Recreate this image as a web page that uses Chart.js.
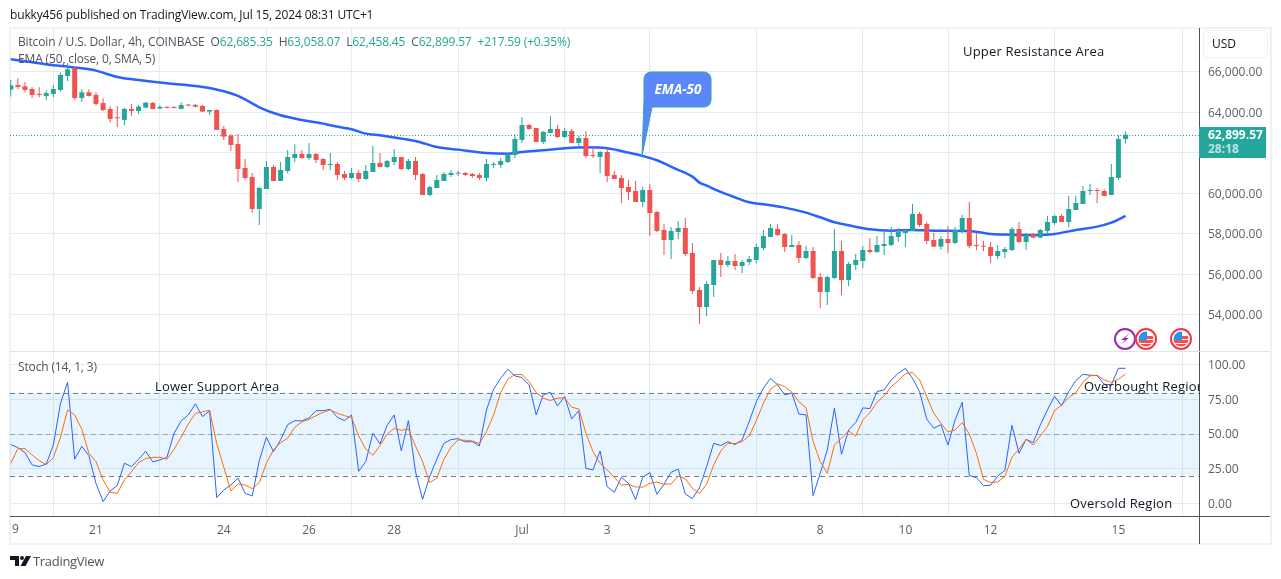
<!DOCTYPE html>
<html>
<head>
<meta charset="utf-8">
<style>
  html, body { margin: 0; padding: 0; background: #fff; }
  body { width: 1281px; height: 579px; position: relative; overflow: hidden; font-family: "Open Sans", sans-serif; }
  canvas { position: absolute; left: 0; top: 0; }
  .txt { position: absolute; white-space: pre; font-size: 12px; line-height: 16px; color: #50535e; letter-spacing: -0.15px; }
  .up { color: #26a69a; }
  #frame { position: absolute; left: 9px; top: 27px; width: 1259px; height: 514px; border: 2px solid #eef1f5; }
</style>
</head>
<body>
<div id="frame"></div>
<canvas id="chart" width="1281" height="579"></canvas>
<div class="txt" style="left:10px;top:7px;color:#131722">bukky456 published on TradingView.com, Jul 15, 2024 08:31 UTC+1</div>
<div class="txt" style="left:18px;top:34px">Bitcoin / U.S. Dollar, 4h, COINBASE  O<span class="up">62,685.35</span>  H<span class="up">63,058.07</span>  L<span class="up">62,458.45</span>  C<span class="up">62,899.57</span>  <span class="up">+217.59 (+0.35%)</span></div>
<div class="txt" style="left:18px;top:51px">EMA (50, close, 0, SMA, 5)</div>
<div class="txt" style="left:18px;top:359px">Stoch (14, 1, 3)</div>
<div class="txt" style="left:33px;top:553px;font-size:13px;letter-spacing:-0.3px">TradingView</div>
<script src="https://cdn.jsdelivr.net/npm/chart.js@4/dist/chart.umd.min.js"></script>
<script>
// 4h candles, Jun 19 00:00 to Jul 15 04:00
const opens = [65128,65359,65293,65161,64914,64815,64914,65112,65804,66184,
  64716,64996,64865,64469,64172,63727,63628,64172,64073,64238,
  64469,64188,64271,64271,64172,64370,64370,64320,64040,64122,
  63183,62853,62441,61253,60808,59225,60214,61303,60610,61105,
  61748,61946,61748,61946,61698,61402,61451,60956,60759,61006,
  60709,61055,61501,61303,61550,61797,61204,61600,60956,59918,
  60264,60610,60907,60973,61006,60956,60907,60759,61402,61402,
  61550,61896,62638,63380,63232,62539,62985,63183,62787,63084,
  62490,62737,61896,61797,62045,60907,60759,60313,60115,59571,
  60165,59077,58186,57691,58087,58285,57048,55218,54377,55465,
  56702,56455,56653,56405,56603,56702,57296,57840,58236,57988,
  57345,57444,56801,57147,55861,55119,55812,57147,55713,56455,
  56653,57197,57098,57395,57444,57840,58038,58137,58978,58483,
  57691,57362,57741,57543,58137,58780,57428,57395,57345,56900,
  57098,57197,58236,57593,57988,57807,58137,58532,58879,58582,
  59176,59472,60115,60165,60115,59918,60759,62685.35];
const highs = [65607,65689,65508,65244,65244,65079,65359,65969,66431,66266,
  65145,65145,64996,64700,64304,64320,64221,64419,64370,64518,
  64518,64353,64304,64304,64518,64419,64419,64370,64122,64139,
  63331,62919,62935,61698,61006,60330,61600,61402,61550,62144,
  62408,62144,62490,61995,61748,61995,61550,61105,61253,61154,
  61402,62342,61995,61649,62193,61797,61698,61797,61006,60363,
  60907,61055,61154,61105,61055,61006,61006,61698,61550,61748,
  61995,62935,63776,63430,63232,63084,63826,63380,63232,63183,
  62836,63084,62292,62094,62193,61105,60907,60660,60610,60313,
  60462,59126,58483,58335,58631,58780,57543,55366,55663,56702,
  57048,56900,56999,56702,56900,57494,58186,58483,58483,58038,
  57939,57642,57395,57345,56059,55911,58236,57642,56603,56999,
  57395,57790,57889,58137,58335,58285,58236,59472,59077,58582,
  58038,57873,58384,58335,58928,59571,58038,57642,57593,57444,
  57345,58335,58582,58038,58038,58236,58879,58928,58978,59868,
  59868,60363,60462,60264,60214,61451,62886,63058.07];
const lows = [64782,65145,64980,64716,64749,64617,64749,65046,65557,64617,
  64518,64782,64337,64073,63496,63282,63380,63826,63925,64205,
  64155,64172,64205,64205,64155,64320,64238,64024,63875,63133,
  62638,62094,60561,60660,59027,58433,60214,60610,60610,60989,
  61550,61698,61649,61501,61154,61154,60660,60660,60709,60561,
  60660,61055,61303,61253,61402,61154,61154,60660,59918,59868,
  60264,60610,60808,60857,60857,60759,60660,60610,61253,61253,
  61501,61748,62490,63133,62539,62441,62985,62737,62737,62490,
  62342,61748,61748,61006,60561,60709,59522,59670,59571,59324,
  57889,58087,56949,56751,57741,56900,55020,53536,53932,54872,
  55861,56356,56207,56059,56455,56554,57197,57840,57889,57098,
  57345,56554,56751,55762,54327,54476,55762,54971,55416,56207,
  56306,56999,57048,56949,57395,57593,57345,58137,58335,57494,
  57362,57213,57048,57494,58038,57296,57197,57147,56554,56751,
  56801,57147,57543,57197,57790,57790,57988,58433,58582,58335,
  59176,59472,59918,59522,59868,59918,60660,62458.45];
const closes = [65343,65260,65112,64865,64865,64963,65161,65854,66134,64716,
  64996,64815,64419,64122,63677,63710,64172,64073,64287,64485,
  64172,64271,64221,64221,64370,64337,64287,64040,64122,63133,
  62803,62391,61204,60759,59225,60264,61303,60610,61154,61797,
  61946,61748,61946,61649,61402,61435,60907,60759,61006,60709,
  61105,61501,61303,61600,61797,61204,61600,60907,59918,60313,
  60660,60956,61006,61006,60907,60857,60759,61451,61435,61600,
  61946,62688,63380,63183,62539,63034,63183,62787,63084,62490,
  62737,61847,61847,62045,60857,60709,60264,60066,59571,60165,
  59027,58137,57691,58137,58285,56999,55168,54377,55515,56702,
  56455,56653,56405,56603,56751,57345,57889,58285,57939,57345,
  57444,56801,57147,55812,55119,55861,57147,55713,56504,56702,
  57197,57098,57444,57494,57889,58087,58186,58978,58433,57642,
  57362,57741,57543,58186,58780,57395,57395,57362,56900,57147,
  57246,58236,57593,57939,57807,58186,58582,58879,58582,59225,
  59522,60115,60165,60115,59868,60808,62688,62899.57];

// EMA 50 at these candles
const emaCandles = [0,3,6,8,10,12,15,18,22,25,28,30,32,34,35,38,41,44,45,48,50,52,55,57,60,63,67,70,72,75,78,81,84,87,89,91,94,95,96,97,98,100,102,104,106,109,112,114,116,118,121,124,127,130,135,138,141,144,147,150,153,155,157];
const emaValues = [66629,66481,66332,66266,66184,66068,65755,65607,65442,65343,65211,65046,64815,64452,64254,63859,63628,63446,63364,63166,62952,62869,62704,62589,62292,62160,61995,61962,62045,62127,62226,62276,62226,62012,61847,61633,61154,61006,60825,60528,60379,60066,59802,59555,59456,59291,59044,58813,58565,58417,58219,58153,58186,58153,58137,57988,57955,57939,57988,58186,58351,58549,58879];

const stochK = [42.4,40.2,36.6,27.7,26.5,28.4,42.1,72.2,87.4,31.8,
  41.2,34.4,14.4,1.2,8.9,12.8,28.9,26.5,31.8,37.6,
  29.9,31.3,33.2,50.6,59.5,63.8,71.8,62.6,66.7,4.1,
  9.6,13.2,18.1,7.2,5.3,30.8,47.7,37.3,45.8,56.8,
  59.7,59.5,61.6,66.9,66.9,67.9,62.1,59.7,63.8,23.1,
  30.1,50.6,42.9,56.1,63.8,37.8,59.7,22.9,2.9,19.3,
  31.8,43.3,46.0,46.7,44.3,44.5,41.4,67.4,82.4,90.3,
  96.8,92.0,90.8,85.5,63.8,78.3,80.2,70.3,77.1,60.9,
  66.9,25.3,24.1,37.8,12.0,7.9,18.8,14.4,2.6,18.8,
  22.2,6.5,13.7,22.4,24.6,6.7,3.4,11.3,26.5,43.3,
  41.7,44.5,42.4,45.8,59.0,73.4,83.1,90.3,85.5,78.3,
  79.7,64.5,63.8,5.5,21.7,38.5,68.6,35.4,53.0,58.3,
  68.9,68.4,80.7,81.9,89.1,93.9,97.5,90.3,80.7,60.9,
  54.2,56.8,42.1,60.2,73.0,20.0,18.5,12.8,13.0,19.7,
  23.6,56.3,36.1,46.2,43.8,56.6,67.4,77.3,70.6,80.7,
  88.6,93.2,92.5,92.2,86.0,85.5,97.5,97.5];
const stochD = [28.9,39.5,39.5,34.9,30.8,27.9,33.0,47.7,67.4,63.8,
  53.5,36.1,30.1,16.9,7.9,7.2,16.9,22.9,29.4,32.3,
  33.2,33.2,31.8,39.0,47.7,57.3,65.0,66.0,67.2,43.3,
  26.0,8.9,14.0,13.2,10.6,14.9,28.9,38.5,43.8,47.0,
  54.9,58.8,60.7,63.3,65.7,67.4,65.0,63.3,61.9,48.6,
  39.0,34.7,41.7,49.8,54.2,52.7,53.7,41.4,30.1,14.9,
  18.1,31.8,40.5,45.8,45.5,45.0,43.1,51.8,63.8,79.9,
  89.6,93.0,93.0,87.9,79.9,75.9,74.2,75.9,76.1,69.4,
  68.1,50.6,37.3,28.9,24.1,18.8,13.0,13.7,11.8,11.6,
  14.4,15.4,13.7,14.0,19.7,17.8,10.8,7.0,13.7,27.7,
  37.8,43.3,43.1,44.5,48.6,59.7,72.2,82.4,86.2,84.3,
  80.2,73.4,68.9,44.5,30.1,21.7,42.1,47.0,52.3,48.6,
  60.2,65.5,73.0,77.5,84.3,88.6,93.7,94.4,89.1,77.1,
  65.0,57.8,51.5,53.0,58.3,50.1,36.1,17.3,14.9,15.4,
  19.3,33.2,39.0,46.2,42.1,48.6,55.4,66.9,71.0,76.3,
  79.9,87.4,92.0,92.5,89.1,87.4,89.6,93.4];

const dayTicks = [0,12,30,42,54,72,84,96,114,126,138,156];
const dayLabels = ['','21','24','26','28','Jul','3','5','8','10','12','15'];
const priceTicks = [54000,56000,58000,60000,62000,64000,66000];
const stochTicks = [0,25,50,75,100];

const UP = '#26a69a', DOWN = '#ef5350', GRID = '#e4ecf3', AXIS = '#50535e', LABEL = '#5d606b';
const FONT = '"Open Sans", sans-serif';

const candleIdx = closes.map((_, i) => i);
const candleCol = closes.map((c, i) => c >= opens[i] ? UP : DOWN);

function flag(ctx, x, y) {
  ctx.save();
  ctx.beginPath(); ctx.arc(x, y, 10, 0, Math.PI * 2);
  ctx.fillStyle = '#fff'; ctx.fill();
  ctx.strokeStyle = '#f23645'; ctx.lineWidth = 2; ctx.stroke();
  ctx.beginPath(); ctx.arc(x, y, 7.5, 0, Math.PI * 2); ctx.clip();
  ctx.fillStyle = '#ef5350';
  ctx.fillRect(x - 8, y + 1, 16, 3);
  ctx.fillRect(x - 8, y + 5, 16, 3);
  ctx.fillRect(x + 1, y - 3, 8, 3);
  ctx.fillStyle = '#2196f3';
  ctx.fillRect(x - 8, y - 8, 9, 9);
  ctx.restore();
}

function bolt(ctx, x, y) {
  ctx.beginPath(); ctx.arc(x, y, 10, 0, Math.PI * 2);
  ctx.fillStyle = '#fff'; ctx.fill();
  ctx.strokeStyle = '#9c27b0'; ctx.lineWidth = 2; ctx.stroke();
  ctx.beginPath();
  ctx.moveTo(x + 5, y - 6); ctx.lineTo(x - 4, y + 1); ctx.lineTo(x, y + 1);
  ctx.lineTo(x - 5, y + 6); ctx.lineTo(x + 4, y - 1); ctx.lineTo(x, y - 1);
  ctx.closePath();
  ctx.fillStyle = '#9c27b0'; ctx.fill();
}

// stochastic band and price line go under the candles
const underlay = {
  id: 'underlay',
  beforeDatasetsDraw(chart) {
    const { ctx, chartArea: a, scales } = chart;
    const s = scales.yStoch, p = scales.yPrice;
    ctx.save();
    ctx.fillStyle = 'rgba(33,150,243,0.1)';
    ctx.fillRect(a.left, s.getPixelForValue(80), a.right - a.left, s.getPixelForValue(20) - s.getPixelForValue(80));
    ctx.lineWidth = 1;
    [[80, '#787b86'], [50, '#a0a3ad'], [20, '#787b86']].forEach(([v, col]) => {
      const y = Math.round(s.getPixelForValue(v)) + 0.5;
      ctx.strokeStyle = col; ctx.setLineDash([5, 4]);
      ctx.beginPath(); ctx.moveTo(a.left, y); ctx.lineTo(a.right, y); ctx.stroke();
    });
    ctx.strokeStyle = '#e0e3eb'; ctx.setLineDash([]);
    const sep = Math.round(p.bottom) + 0.5;
    ctx.beginPath(); ctx.moveTo(a.left, sep); ctx.lineTo(a.right + 71, sep); ctx.stroke();
    const last = Math.round(p.getPixelForValue(closes[closes.length - 1])) + 0.5;
    ctx.strokeStyle = UP; ctx.setLineDash([1, 2]);
    ctx.beginPath(); ctx.moveTo(a.left, last); ctx.lineTo(a.right, last); ctx.stroke();
    ctx.restore();
  }
};

const overlay = {
  id: 'overlay',
  afterDraw(chart) {
    const { ctx, chartArea: a } = chart;
    ctx.save();

    // axis line runs on under the price scale
    ctx.strokeStyle = AXIS; ctx.lineWidth = 1;
    ctx.beginPath(); ctx.moveTo(a.right, a.bottom + 0.5); ctx.lineTo(1270, a.bottom + 0.5); ctx.stroke();
    ctx.beginPath(); ctx.moveTo(a.right + 0.5, a.bottom); ctx.lineTo(a.right + 0.5, 544); ctx.stroke();

    ctx.textBaseline = 'middle'; ctx.textAlign = 'left';
    ctx.fillStyle = LABEL; ctx.font = '12px ' + FONT;
    ctx.fillText('9', 12, 530);

    // notes drawn on the published chart
    ctx.fillStyle = '#131722'; ctx.font = '13px ' + FONT; ctx.letterSpacing = '0.2px';
    ctx.fillText('Upper Resistance Area', 963, 52);
    ctx.fillText('Lower Support Area', 155, 387);
    ctx.fillText('Oversold Region', 1070, 504);
    ctx.save();
    ctx.beginPath(); ctx.rect(a.left, a.top, a.right - a.left, a.bottom - a.top); ctx.clip();
    ctx.fillText('Overbought Region', 1084, 387);
    ctx.restore();
    ctx.letterSpacing = '0px';

    // EMA-50 callout
    ctx.beginPath();
    ctx.moveTo(651, 72); ctx.lineTo(704, 72);
    ctx.arcTo(711, 72, 711, 79, 7); ctx.lineTo(711, 100);
    ctx.arcTo(711, 107, 704, 107, 7); ctx.lineTo(652, 107);
    ctx.lineTo(642, 156); ctx.lineTo(644, 100); ctx.lineTo(644, 79);
    ctx.arcTo(644, 72, 651, 72, 7); ctx.closePath();
    ctx.fillStyle = '#5b87fb'; ctx.fill();
    ctx.strokeStyle = '#2ea3b5'; ctx.lineWidth = 1; ctx.stroke();
    ctx.fillStyle = '#fff'; ctx.font = 'italic bold 13.5px ' + FONT; ctx.textAlign = 'center';
    ctx.fillText('EMA-50', 678, 90);

    // last price tag
    ctx.fillStyle = UP;
    ctx.fillRect(a.right, 127, 67, 31);
    ctx.textAlign = 'left'; ctx.fillStyle = '#fff'; ctx.font = 'bold 12px ' + FONT;
    ctx.fillText('62,899.57', 1208, 136);
    ctx.fillStyle = 'rgba(255,255,255,0.7)';
    ctx.fillText('28:18', 1208, 150);

    // currency button
    ctx.strokeStyle = '#eef0f3'; ctx.lineWidth = 1;
    ctx.beginPath(); ctx.roundRect(1203.5, 30.5, 64, 27, 4); ctx.stroke();
    ctx.fillStyle = '#131722'; ctx.font = '12px ' + FONT;
    ctx.fillText('USD', 1212, 45);

    bolt(ctx, 1125, 339);
    flag(ctx, 1146, 339);
    flag(ctx, 1181, 339);

    // TradingView mark
    ctx.fillStyle = '#131722';
    ctx.beginPath();
    ctx.moveTo(10, 556); ctx.lineTo(19, 556); ctx.lineTo(19, 566); ctx.lineTo(15, 566); ctx.lineTo(15, 560); ctx.lineTo(10, 560);
    ctx.closePath(); ctx.fill();
    ctx.beginPath(); ctx.arc(22, 558, 2, 0, Math.PI * 2); ctx.fill();
    ctx.beginPath();
    ctx.moveTo(26, 556); ctx.lineTo(31, 556); ctx.lineTo(25.5, 566); ctx.lineTo(20.5, 566);
    ctx.closePath(); ctx.fill();
    ctx.restore();
  }
};

new Chart(document.getElementById('chart'), {
  type: 'bar',
  data: {
    datasets: [
      { type: 'bar', label: 'Body', yAxisID: 'yPrice', order: 0, grouped: false, barThickness: 5, minBarLength: 1,
        inflateAmount: 0, backgroundColor: candleCol,
        data: candleIdx.map(i => ({ x: i, y: [opens[i], closes[i]] })) },
      { type: 'bar', label: 'Wick', yAxisID: 'yPrice', order: 1, grouped: false, barThickness: 1,
        inflateAmount: 0, backgroundColor: candleCol,
        data: candleIdx.map(i => ({ x: i, y: [lows[i], highs[i]] })) },
      { type: 'line', label: 'EMA', yAxisID: 'yPrice', order: 2, borderColor: '#2962ff', borderWidth: 2.5, pointRadius: 0,
        cubicInterpolationMode: 'monotone',
        data: emaCandles.map((c, i) => ({ x: c, y: emaValues[i] })) },
      { type: 'line', label: '%K', yAxisID: 'yStoch', order: 4, borderColor: '#2962ff', borderWidth: 1, pointRadius: 0,
        data: candleIdx.map(i => ({ x: i, y: stochK[i] })) },
      { type: 'line', label: '%D', yAxisID: 'yStoch', order: 3, borderColor: '#ff6d00', borderWidth: 1, pointRadius: 0,
        data: candleIdx.map(i => ({ x: i, y: stochD[i] })) }
    ]
  },
  options: {
    responsive: false,
    animation: false,
    devicePixelRatio: 1,
    layout: { padding: { left: 10, top: 28, right: 11, bottom: 34 } },
    plugins: { legend: { display: false }, tooltip: { enabled: false } },
    scales: {
      x: {
        type: 'linear', offset: false, min: -0.11, max: 167.35,
        afterBuildTicks: s => { s.ticks = dayTicks.map(v => ({ value: v })); },
        afterFit: s => { s.height = 29; },
        grid: { color: GRID, drawTicks: false },
        border: { color: AXIS },
        ticks: {
          autoSkip: false, maxRotation: 0, padding: 7, color: LABEL, font: { family: FONT, size: 12 },
          callback: v => dayLabels[dayTicks.indexOf(v)]
        }
      },
      yPrice: {
        position: 'right', stack: 'panes', stackWeight: 323, min: 52200, max: 68176,
        afterBuildTicks: s => { s.ticks = priceTicks.map(v => ({ value: v })); },
        afterFit: s => { s.width = 71; },
        grid: { color: GRID, drawTicks: false },
        border: { color: AXIS },
        ticks: {
          padding: 9, crossAlign: 'near', labelOffset: 1, color: LABEL, font: { family: FONT, size: 12 },
          callback: v => v === 62000 ? '' : v.toLocaleString('en-US', { minimumFractionDigits: 2 })
        }
      },
      yStoch: {
        position: 'right', stack: 'panes', stackWeight: 165, min: -9.2, max: 110,
        afterBuildTicks: s => { s.ticks = stochTicks.map(v => ({ value: v })); },
        afterFit: s => { s.width = 71; },
        grid: { color: GRID, drawTicks: false },
        border: { color: AXIS },
        ticks: {
          padding: 9, crossAlign: 'near', labelOffset: 1, color: LABEL, font: { family: FONT, size: 12 },
          callback: v => v.toFixed(2)
        }
      }
    }
  },
  plugins: [underlay, overlay]
});
</script>
</body>
</html>
